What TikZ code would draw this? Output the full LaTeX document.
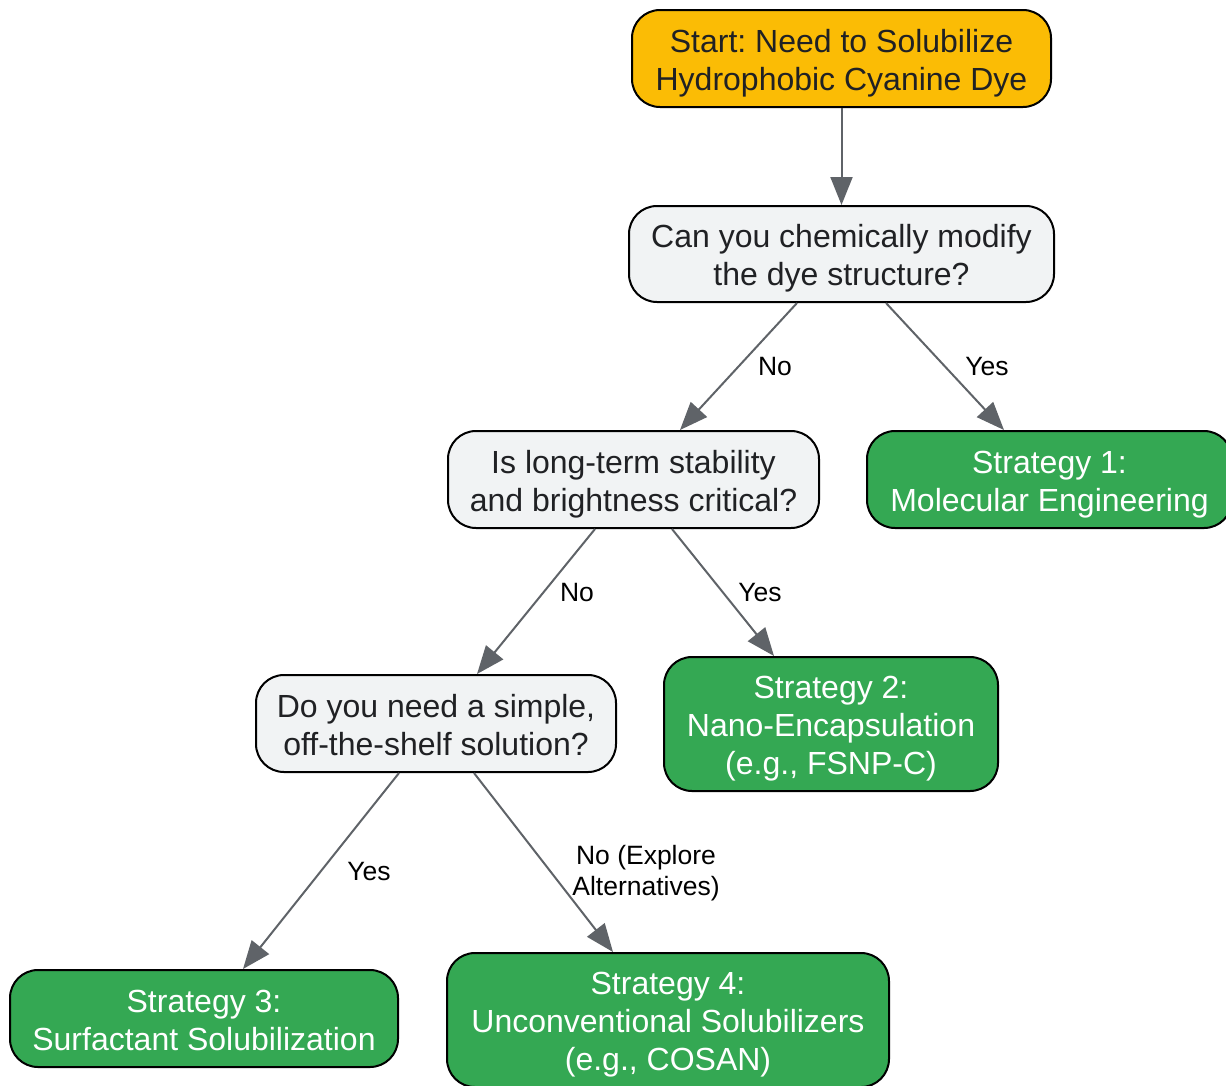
\documentclass[tikz,border=0pt]{standalone}
\usepackage{fontspec}
\setmainfont{Liberation Sans}
\frenchspacing
\usetikzlibrary{arrows.meta}
\definecolor{startyellow}{HTML}{FBBC05}
\definecolor{qgray}{HTML}{F1F3F4}
\definecolor{sgreen}{HTML}{34A853}
\definecolor{txtdark}{HTML}{202124}
\definecolor{edgegray}{HTML}{5F6368}
\newcommand{\tstrut}{\rule{0pt}{32pt}}
\newcommand{\tstrutlow}{\rule{0pt}{27pt}}
\tikzset{
  boxbase/.style={draw=black, line width=2pt, rounded corners=28pt, inner sep=0pt, align=center,
    font=\fontsize{32pt}{38pt}\selectfont},
  startbox/.style={boxbase, fill=startyellow, text=txtdark},
  qbox/.style={boxbase, fill=qgray, text=txtdark},
  sbox/.style={boxbase, fill=sgreen, text=white},
  conn/.style={draw=edgegray, line width=2pt, -{Triangle[length=28pt,width=22pt]}},
  lbl/.style={font=\fontsize{26.5pt}{31pt}\selectfont, text=black, align=center, inner sep=0pt}
}
\begin{document}
\begin{tikzpicture}[x=1pt,y=-1pt]
\useasboundingbox (0,0) rectangle (1226,1085);
\node[startbox, minimum width=419pt, minimum height=97pt] (start) at (841.5,58.5) {\tstrut Start: Need to Solubilize\\Hydrophobic Cyanine Dye};
\node[qbox, minimum width=425pt, minimum height=96pt] (q1) at (841.5,254) {\tstrut Can you chemically modify\\the dye structure?};
\node[qbox, minimum width=371pt, minimum height=97pt] (q2) at (633.5,479.5) {\tstrut Is long-term stability\\and brightness critical?};
\node[sbox, minimum width=365pt, minimum height=97pt] (s1) at (1049.5,479.5) {\tstrut Strategy 1:\\Molecular Engineering};
\node[qbox, minimum width=360pt, minimum height=97pt] (q3) at (436,723.5) {\tstrutlow Do you need a simple,\\off-the-shelf solution?};
\node[sbox, minimum width=334pt, minimum height=134pt] (s2) at (831,724) {\tstrut Strategy 2:\\Nano-Encapsulation\\(e.g., FSNP-C)};
\node[sbox, minimum width=388pt, minimum height=97pt] (s3) at (204,1018.5) {\tstrutlow Strategy 3:\\Surfactant Solubilization};
\node[sbox, minimum width=442pt, minimum height=134pt] (s4) at (668,1020) {\tstrut Strategy 4:\\Unconventional Solubilizers\\(e.g., COSAN)};

\draw[conn] (start.south) -- (q1.north);
\draw[conn] ([xshift=-44.5pt]q1.south) -- node[lbl, xshift=36.5pt] (l1) {No} ([xshift=46.5pt]q2.north);
\draw[conn] ([xshift=44.5pt]q1.south) -- node[lbl, xshift=42pt] (l2) {Yes} ([xshift=-45.5pt]s1.north);
\draw[conn] ([xshift=-38.5pt]q2.south) -- node[lbl, xshift=41pt, yshift=8.5pt] (l3) {No} ([xshift=41pt]q3.north);
\draw[conn] ([xshift=38.5pt]q2.south) -- node[lbl, xshift=37pt] (l4) {Yes} ([xshift=-57pt]s2.north);
\draw[conn] ([xshift=-37pt]q3.south) -- node[lbl, xshift=48pt] (l5) {Yes} ([xshift=39pt]s3.north);
\draw[conn] ([xshift=38pt]q3.south) -- node[lbl, xshift=102.5pt, yshift=-10.5pt] (l6) {No (Explore\\Alternatives)} ([xshift=-55pt]s4.north);
\end{tikzpicture}
\end{document}
